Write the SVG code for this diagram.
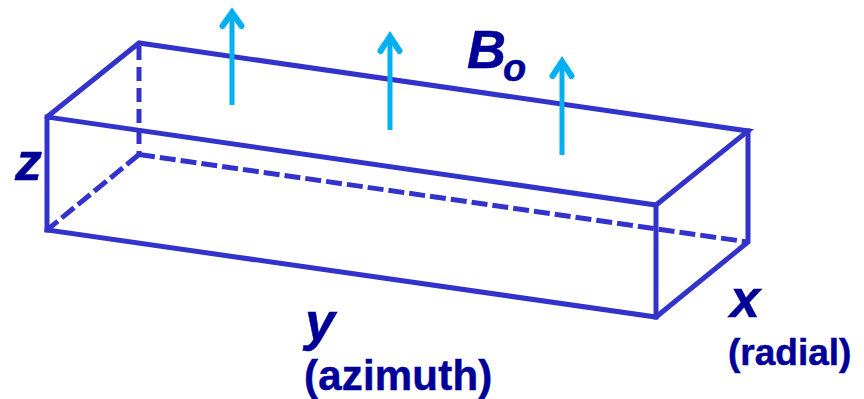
<svg xmlns="http://www.w3.org/2000/svg" width="864" height="399" viewBox="0 0 864 399">
<style>
.e{fill:none;stroke:#3333cc;stroke-width:5;stroke-linejoin:miter;stroke-linecap:square}
.d{fill:none;stroke:#3333cc;stroke-width:5;stroke-dasharray:16 5}
.v{stroke-dasharray:14 7}
.a{fill:none;stroke:#00b0f0;stroke-width:5;stroke-linecap:butt}
.h{fill:none;stroke:#00b0f0;stroke-width:6;stroke-linecap:round;stroke-linejoin:miter}
text{font-family:"Liberation Sans",Arial,sans-serif;font-weight:bold;fill:#000099;stroke:#000099;stroke-width:.5}
.i{font-style:italic;font-size:54px}
</style>
<rect width="864" height="399" fill="#ffffff"/>
<g id="connectors">
<g id="box-hidden-edges">
<path class="d v" d="M139 46V154.500"/>
<path class="d" d="M139 154.500L47 230"/>
<path class="d" d="M139 154.500L748 242"/>
</g>
<g id="box-edges">
<path class="e" d="M47 230V117L139 43L748 131L656 205L47 117"/>
<path class="e" d="M47 230L656 317L748 242V131"/>
<path class="e" d="M656 205V317"/>
</g>
<g id="field-arrows">
<path class="a" d="M232 105V14"/><path class="h" d="M222.500 26L232 12.500L241.500 26"/>
<path class="a" d="M390 130V38"/><path class="h" d="M380.500 51L390 36.500L399.500 51"/>
<path class="a" d="M562 155V63"/><path class="h" d="M552.500 76L562 61.500L571.500 76"/>
</g>
</g>
<g id="label-b0"><text class="i" x="467" y="68">B</text><text x="503" y="81" font-size="38" font-style="italic">o</text></g>
<g id="label-z"><text class="i" x="15" y="180">z</text></g>
<g id="label-x"><text class="i" x="730" y="317">x</text></g>
<g id="label-radial"><text x="728" y="365" font-size="37">(radial)</text></g>
<g id="label-y"><text class="i" x="305" y="340">y</text></g>
<g id="label-azimuth"><text x="304" y="390" font-size="42" letter-spacing=".2">(azimuth)</text></g>
</svg>
